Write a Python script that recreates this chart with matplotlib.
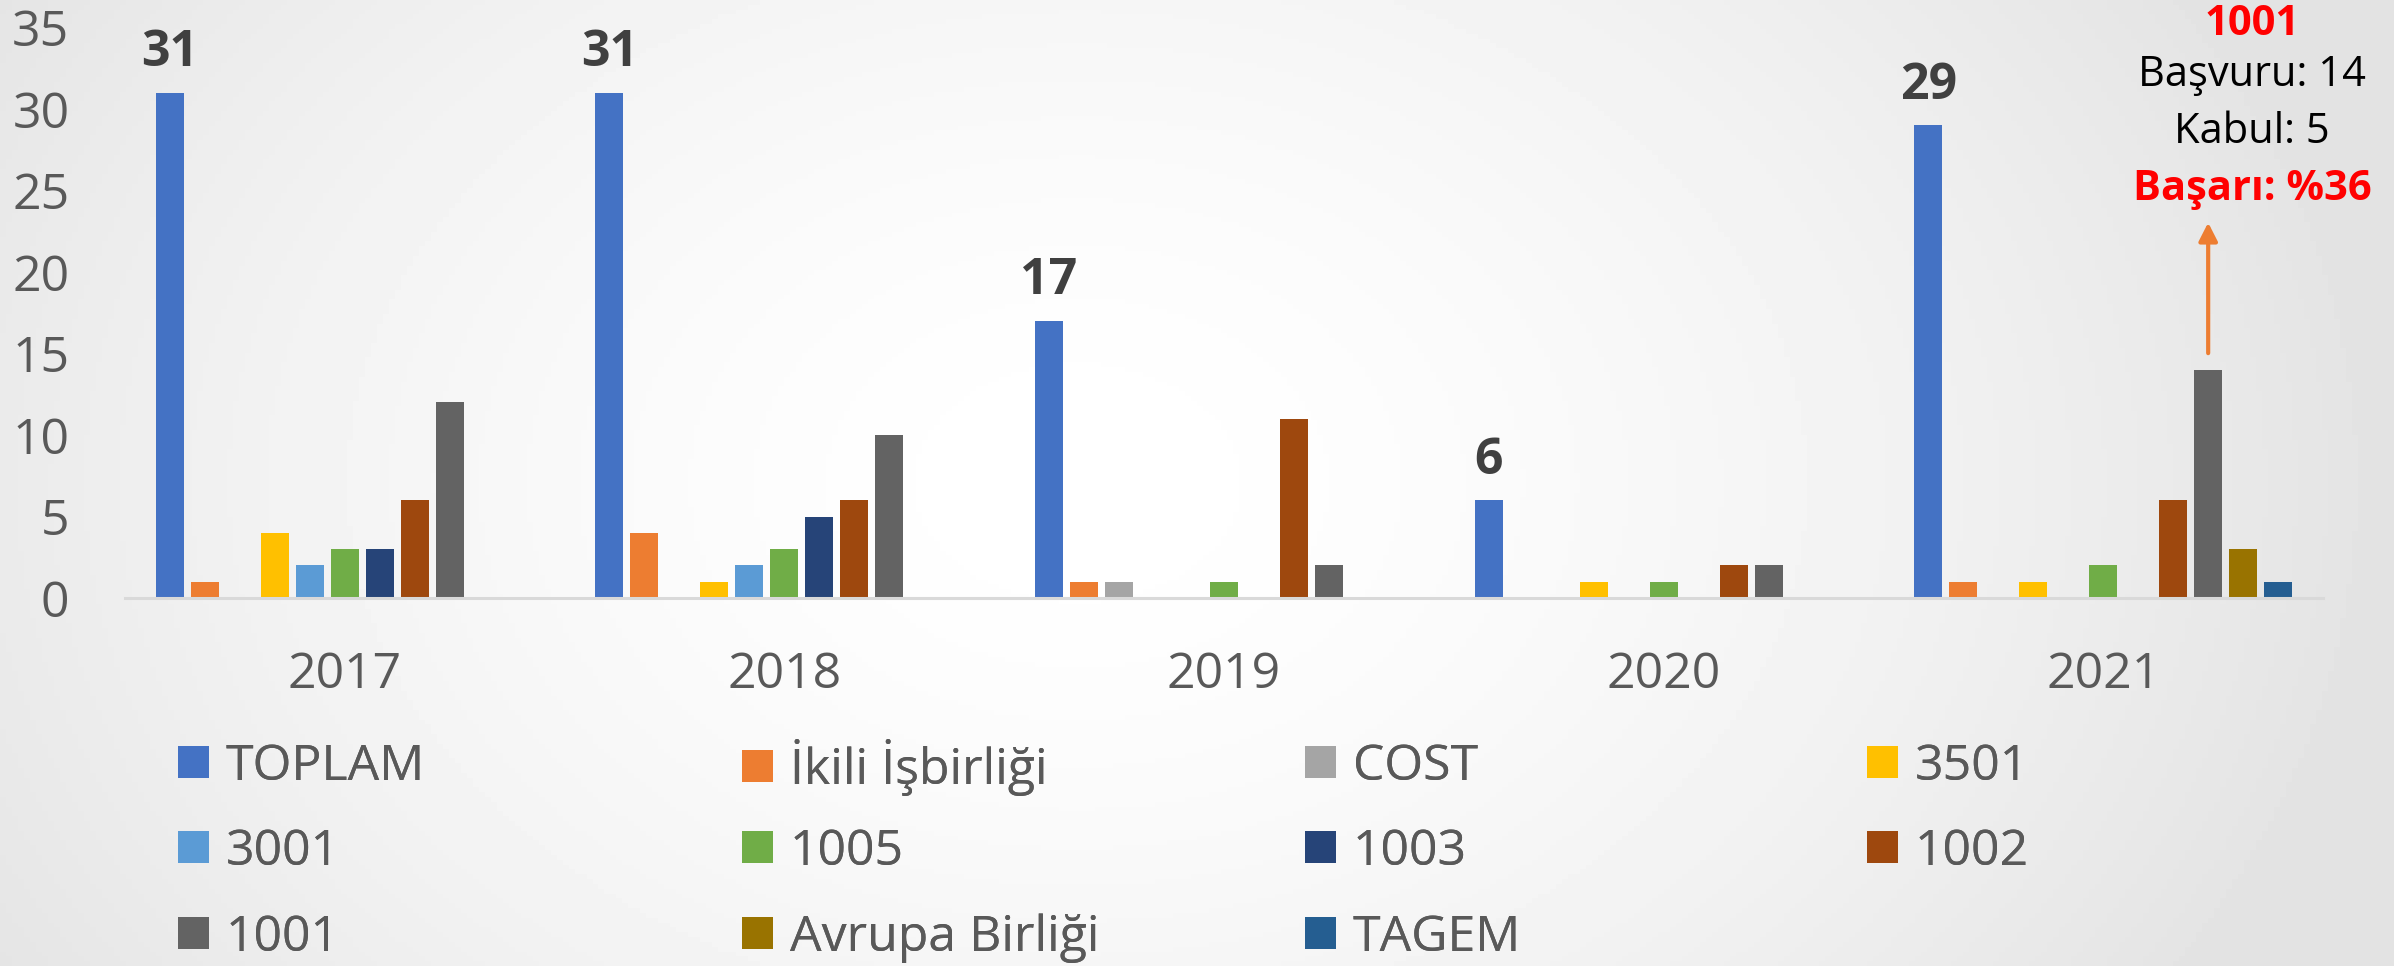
import numpy as np
import matplotlib
matplotlib.use('Agg')
from matplotlib import pyplot as plt

plt.rcParams['font.family'] = ['Open Sans', 'DejaVu Sans']

# Veriler
years = ['2017', '2018', '2019', '2020', '2021']
series = ['TOPLAM', 'İkili İşbirliği', 'COST', '3501', '3001', '1005',
          '1003', '1002', '1001', 'Avrupa Birliği', 'TAGEM']
toplam = [31, 31, 17, 6, 29]
ikili = [1, 4, 1, 0, 1]
cost = [0, 0, 1, 0, 0]
p3501 = [4, 1, 0, 1, 1]
p3001 = [2, 2, 0, 0, 0]
p1005 = [3, 3, 1, 1, 2]
p1003 = [3, 5, 0, 0, 0]
p1002 = [6, 6, 11, 2, 6]
p1001 = [12, 10, 2, 2, 14]
avrupa = [0, 0, 0, 0, 3]
tagem = [0, 0, 0, 0, 1]
values = [toplam, ikili, cost, p3501, p3001, p1005, p1003, p1002, p1001, avrupa, tagem]
colors = ['#4472C4', '#ED7D31', '#A5A5A5', '#FFC000', '#5B9BD5', '#70AD47',
          '#264478', '#9E480E', '#636363', '#997300', '#255E91']

note_title = '1001'
note_lines = ['Başvuru: 14', 'Kabul: 5']
note_rate = 'Başarı: %36'

W, H = 2394, 966
fig = plt.figure(figsize=(W / 100, H / 100), dpi=100)

# arka plan: ortasi beyaz, kenarlari gri
bg = fig.add_axes([0, 0, 1, 1], zorder=-10)
gx, gy = np.meshgrid(np.linspace(0, 1, 400), np.linspace(0, 1, 200))
r = np.sqrt(((gx - 0.45) / 0.55) ** 2 + ((gy - 0.5) / 1.0) ** 2)
grad = 1 - 0.11 * np.clip(r, 0, 1) ** 1.6
bg.imshow(grad, cmap='gray', vmin=0, vmax=1, aspect='auto', extent=[0, 1, 0, 1])
bg.axis('off')

ax = fig.add_axes([125 / W, 1 - 598 / H, (2323 - 125) / W, (598 - 27.5) / H])
ax.patch.set_alpha(0)

x = np.arange(len(years))
step = 0.0796
bw = 0.0637
bars = []
for i, (name, vals, c) in enumerate(zip(series, values, colors)):
    b = ax.bar(x + (i - 5) * step, vals, bw, color=c, label=name)
    bars.append(b)

# TOPLAM etiketleri
for xi, v in zip(x, toplam):
    ax.annotate(str(v), (xi - 5 * step, v), xytext=(0, 28.5), textcoords='offset points',
                ha='center', va='center', fontsize=36, fontweight='bold', color='#404040')

ax.set_xlim(-0.5, 4.5)
ax.set_ylim(0, 35)
ax.set_yticks(range(0, 36, 5))
ax.set_xticks(x)
ax.set_xticklabels(years)
ax.tick_params(axis='both', length=0, labelsize=36, colors='#595959')
ax.tick_params(axis='y', pad=40)
ax.tick_params(axis='x', pad=38)
for s in ['top', 'right', 'left']:
    ax.spines[s].set_visible(False)
ax.spines['bottom'].set_color('#d9d9d9')
ax.spines['bottom'].set_linewidth(2.2)

# 2021 - 1001 notu
bx = 4 + (8 - 5) * step
ax.annotate('', xy=(bx, 23.2), xytext=(bx, 14.85),
            arrowprops=dict(arrowstyle='-|>,head_length=0.55,head_width=0.28',
                            color='#ED7D31', lw=3, mutation_scale=20))
tx = bx + 0.1
ax.text(tx, 35.65 - 8 / 16.3, note_title, ha='center', va='center', fontsize=30,
        fontweight='bold', color='#FF0000', clip_on=False)
ax.text(tx, 35.65 - 58 / 16.3, note_lines[0], ha='center', va='center', fontsize=30,
        color='black', clip_on=False)
ax.text(tx, 35.65 - 115 / 16.3, note_lines[1], ha='center', va='center', fontsize=30,
        color='black', clip_on=False)
ax.text(tx, 35.65 - 173 / 16.3, note_rate, ha='center', va='center', fontsize=30,
        fontweight='bold', color='#FF0000', clip_on=False)

# lejant: 3 satir, 4 esit sutun
col_x = [178, 742, 1305, 1867]
row_y = [767, 852, 938]
for i, (b, name) in enumerate(zip(bars, series)):
    row, col = divmod(i, 4)
    leg = fig.legend([b], [name], loc='center left',
                     bbox_to_anchor=(col_x[col] / W, 1 - row_y[row] / H),
                     frameon=False, fontsize=36, borderpad=0, borderaxespad=0,
                     handlelength=0.62, handleheight=0.62, handletextpad=0.33,
                     labelcolor='#595959')
    fig.add_artist(leg)

fig.savefig('out.png', dpi=100)
